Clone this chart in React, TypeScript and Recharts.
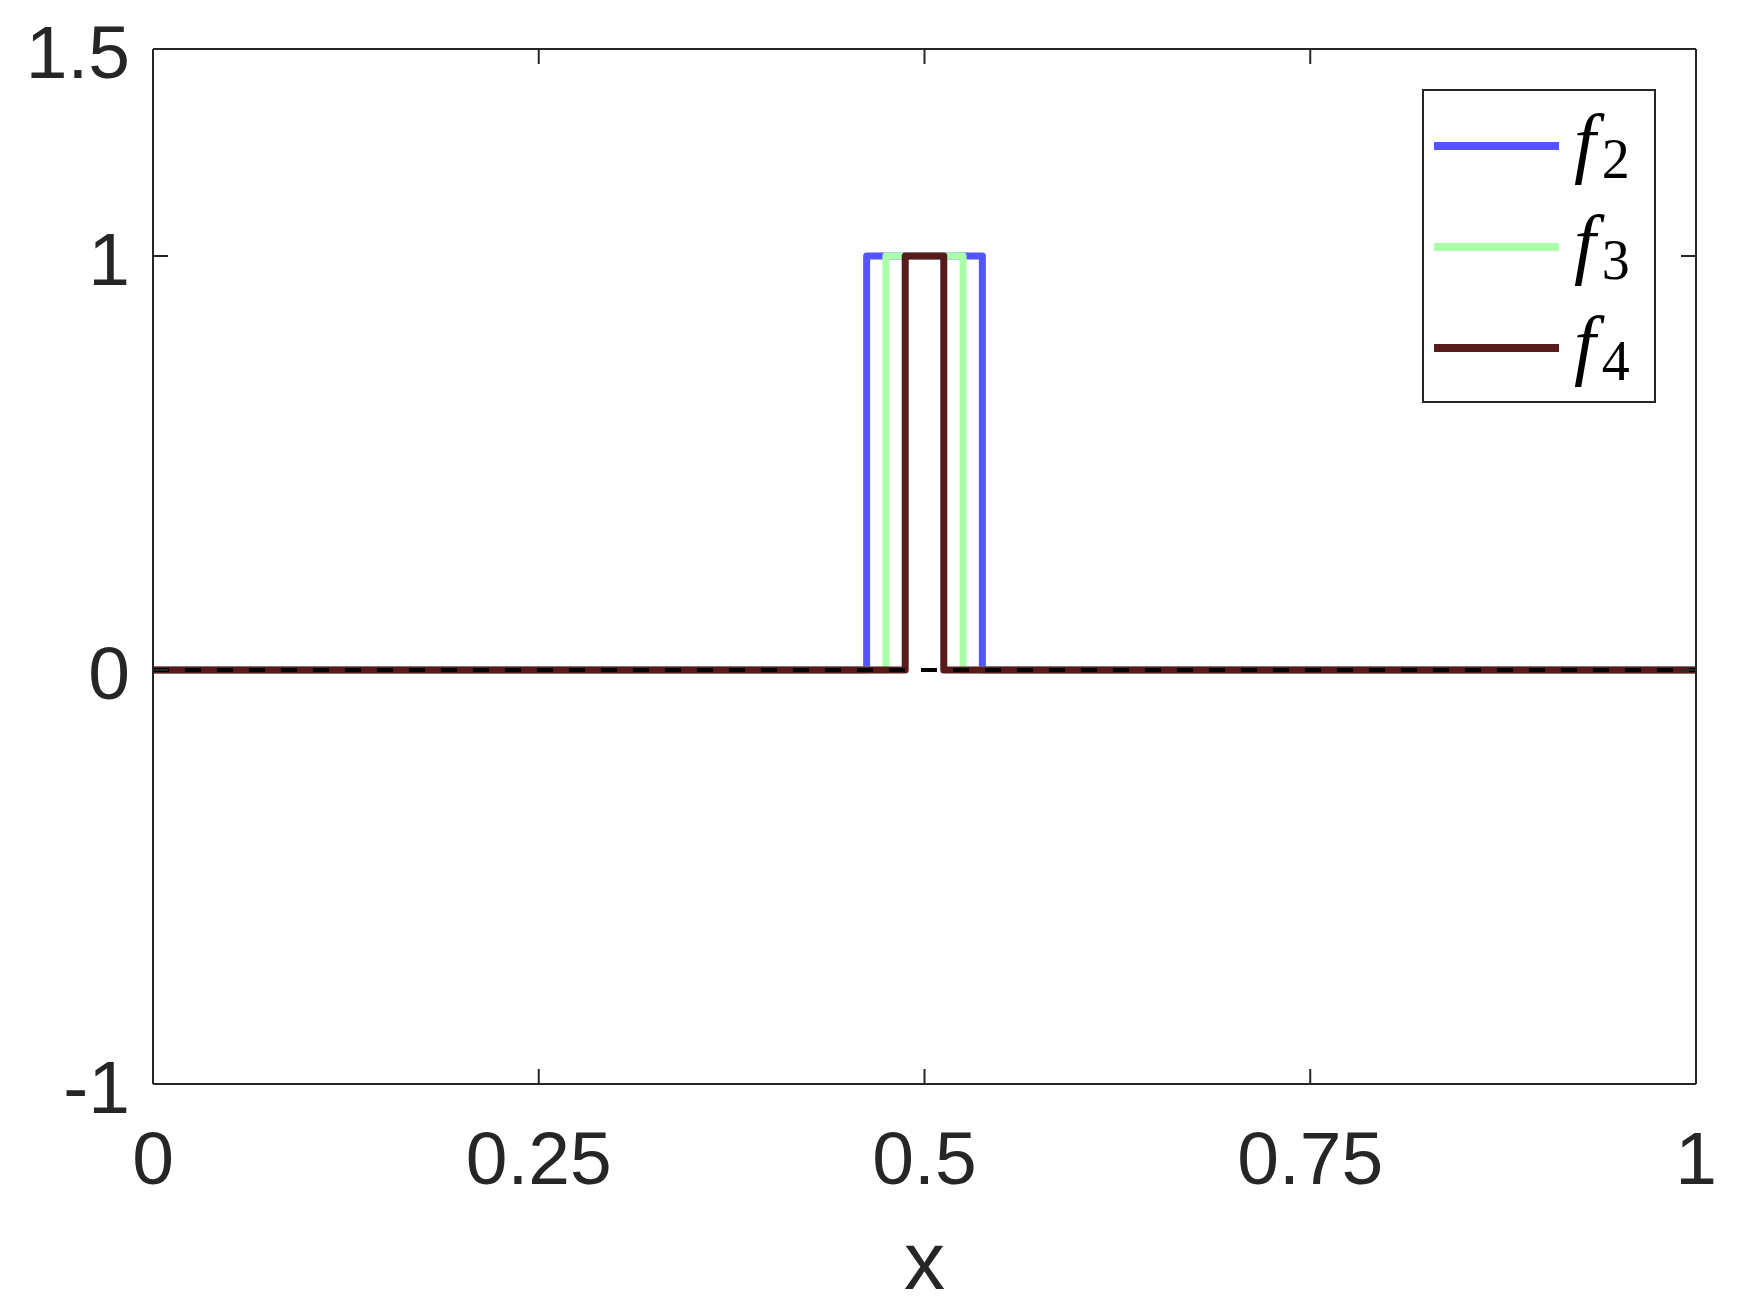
import { LineChart, Line, XAxis, YAxis, Legend } from 'recharts';

// pulse functions f2, f3, f4 (0 everywhere except a box of height 1)
const f2 = [
  { x: 0, y: 0 },
  { x: 0.4625, y: 0 },
  { x: 0.4625, y: 1 },
  { x: 0.5375, y: 1 },
  { x: 0.5375, y: 0 },
  { x: 1, y: 0 },
];
const f3 = [
  { x: 0, y: 0 },
  { x: 0.475, y: 0 },
  { x: 0.475, y: 1 },
  { x: 0.525, y: 1 },
  { x: 0.525, y: 0 },
  { x: 1, y: 0 },
];
const f4 = [
  { x: 0, y: 0 },
  { x: 0.4875, y: 0 },
  { x: 0.4875, y: 1 },
  { x: 0.5125, y: 1 },
  { x: 0.5125, y: 0 },
  { x: 1, y: 0 },
];
// dashed zero reference
const zeroLine = [
  { x: 0, y: 0 },
  { x: 1, y: 0 },
];

const seriesNames = ['f2', 'f3', 'f4'];
const seriesSubs = ['2', '3', '4'];
const xTicks = [0, 0.25, 0.5, 0.75, 1];
const yTicks = [-1, 0, 1, 1.5];

const colors = ['#5555ff', '#aaffaa', '#571b1b'];
const AXIS = '#262626';
const FONT = '"Liberation Sans", Arial, Helvetica, sans-serif';
const MATH = '"Liberation Serif", "Times New Roman", serif';
const TICK_LEN = 15;

function BottomTick({ x, y, payload }: any) {
  return (
    <g>
      <line x1={x} y1={y} x2={x} y2={y - TICK_LEN} stroke={AXIS} strokeWidth={2} />
      <text x={x} y={y + 100} textAnchor="middle" fontSize={75} fontFamily={FONT} fill={AXIS}>
        {String(payload.value)}
      </text>
    </g>
  );
}

function TopTick({ x, y }: any) {
  return <line x1={x} y1={y} x2={x} y2={y + TICK_LEN} stroke={AXIS} strokeWidth={2} />;
}

function LeftTick({ x, y, payload }: any) {
  return (
    <g>
      <line x1={x} y1={y} x2={x + TICK_LEN} y2={y} stroke={AXIS} strokeWidth={2} />
      <text x={x - 23} y={y + 29} textAnchor="end" fontSize={75} fontFamily={FONT} fill={AXIS}>
        {String(payload.value)}
      </text>
    </g>
  );
}

function RightTick({ x, y }: any) {
  return <line x1={x} y1={y} x2={x - TICK_LEN} y2={y} stroke={AXIS} strokeWidth={2} />;
}

function LegendBox({ payload }: any) {
  const items = (payload || []).filter((p: any) => seriesNames.includes(p.value));
  return (
    <div
      style={{
        width: 234,
        height: 314,
        boxSizing: 'border-box',
        border: `2px solid ${AXIS}`,
        background: '#fff',
      }}
    >
      <svg width={230} height={310} style={{ display: 'block' }}>
        {items.map((p: any, i: number) => {
          const cy = 55 + i * 101;
          const sub = seriesSubs[seriesNames.indexOf(p.value)];
          return (
            <g key={p.value}>
              <line x1={10} x2={135} y1={cy} y2={cy} stroke={p.color} strokeWidth={8} />
              <text x={150} y={cy + 22} fontFamily={MATH} fill="#000">
                <tspan fontSize={78} fontStyle="italic">f</tspan>
                <tspan fontSize={56} dx={6} dy={10}>{sub}</tspan>
              </text>
            </g>
          );
        })}
      </svg>
    </div>
  );
}

export default function App() {
  return (
    <div style={{ position: 'absolute', left: 0, top: 0, background: '#fff' }}>
      <LineChart
        width={1750}
        height={1313}
        margin={{ top: 48, right: 53, bottom: 228, left: 152 }}
      >
        <XAxis
          xAxisId="bottom"
          dataKey="x"
          type="number"
          domain={[0, 1]}
          ticks={xTicks}
          interval={0}
          height={1}
          tickSize={0}
          tickMargin={0}
          tickLine={false}
          axisLine={{ stroke: AXIS, strokeWidth: 2 }}
          tick={<BottomTick />}
          allowDataOverflow
          label={{
            value: 'x',
            position: 'bottom',
            offset: 146,
            fontSize: 82,
            fontFamily: FONT,
            fill: AXIS,
          }}
        />
        <XAxis
          xAxisId="top"
          orientation="top"
          dataKey="x"
          type="number"
          domain={[0, 1]}
          ticks={xTicks}
          interval={0}
          height={1}
          tickSize={0}
          tickMargin={0}
          tickLine={false}
          axisLine={{ stroke: AXIS, strokeWidth: 2 }}
          tick={<TopTick />}
          allowDataOverflow
        />
        <YAxis
          yAxisId="left"
          type="number"
          domain={[-1, 1.5]}
          ticks={yTicks}
          interval={0}
          width={1}
          tickSize={0}
          tickMargin={0}
          tickLine={false}
          axisLine={{ stroke: AXIS, strokeWidth: 2 }}
          tick={<LeftTick />}
          allowDataOverflow
        />
        <YAxis
          yAxisId="right"
          orientation="right"
          type="number"
          domain={[-1, 1.5]}
          ticks={yTicks}
          interval={0}
          width={1}
          tickSize={0}
          tickMargin={0}
          tickLine={false}
          axisLine={{ stroke: AXIS, strokeWidth: 2 }}
          tick={<RightTick />}
          allowDataOverflow
        />
        {[f2, f3, f4].map((d, i) => (
          <Line
            key={seriesNames[i]}
            xAxisId="bottom"
            yAxisId="left"
            data={d}
            dataKey="y"
            name={seriesNames[i]}
            type="linear"
            stroke={colors[i]}
            strokeWidth={7}
            strokeLinejoin="round"
            dot={false}
            activeDot={false}
            isAnimationActive={false}
          />
        ))}
        <Line
          xAxisId="bottom"
          yAxisId="left"
          data={zeroLine}
          dataKey="y"
          name="zero"
          type="linear"
          stroke="#000"
          strokeWidth={4}
          strokeDasharray="16 16"
          dot={false}
          activeDot={false}
          legendType="none"
          isAnimationActive={false}
        />
        <Legend
          layout="vertical"
          align="center"
          verticalAlign="middle"
          wrapperStyle={{ top: 89, left: 1422, width: 234, height: 314 }}
          content={<LegendBox />}
        />
      </LineChart>
    </div>
  );
}
